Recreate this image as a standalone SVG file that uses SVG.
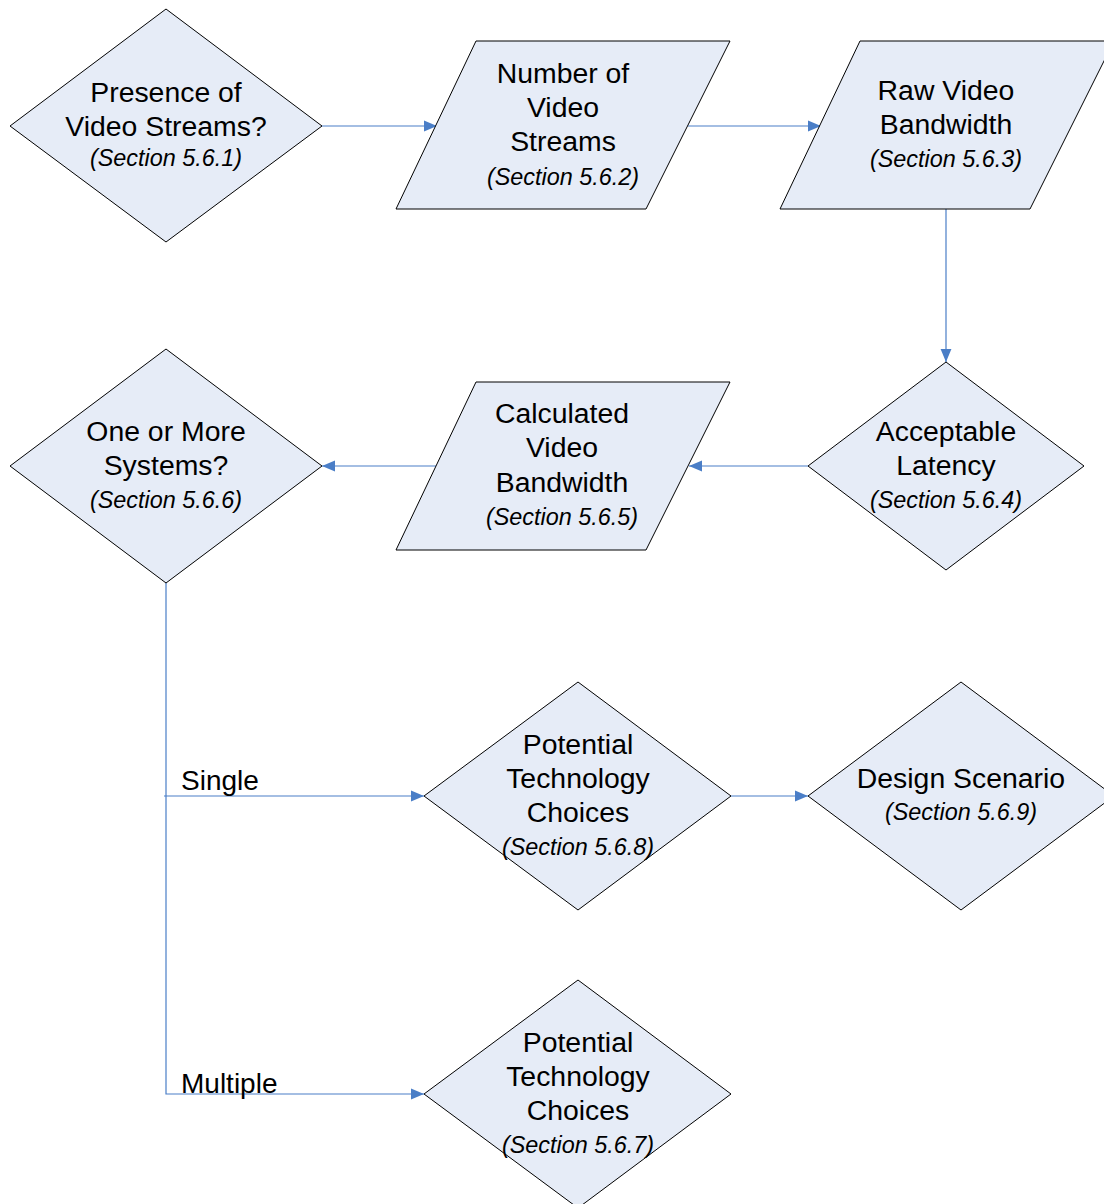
<svg xmlns="http://www.w3.org/2000/svg" width="1104" height="1204" viewBox="0 0 1104 1204">
<defs>
<style>
.shape{fill:#E6ECF7;stroke:#000;stroke-width:1}
.t{font-family:"Liberation Sans",Arial,sans-serif;font-size:28.4px;fill:#000;text-anchor:middle}
.s{font-family:"Liberation Sans",Arial,sans-serif;font-size:23.4px;font-style:italic;fill:#000;text-anchor:middle}
.lbl{font-family:"Liberation Sans",Arial,sans-serif;font-size:28px;fill:#000}
.c{fill:none;stroke:#4A7EC7;stroke-width:1.2}
</style>
<marker id="ah" viewBox="0 0 12 10" refX="12" refY="5" markerWidth="13" markerHeight="12" markerUnits="userSpaceOnUse" orient="auto">
<path d="M0,0 L12,5 L0,10 z" fill="#4A7EC7"/>
</marker>
</defs>
<rect width="1104" height="1204" fill="#fff"/>
<g id="connectors">
<path class="c" d="M322,126 H437" marker-end="url(#ah)"/>
<path class="c" d="M688,126 H821" marker-end="url(#ah)"/>
<path class="c" d="M946,209 V362" marker-end="url(#ah)"/>
<path class="c" d="M808,466 H689" marker-end="url(#ah)"/>
<path class="c" d="M436,466 H322" marker-end="url(#ah)"/>
<path class="c" d="M166,583 V1094 H424" marker-end="url(#ah)"/>
<path class="c" d="M164,796 H424" marker-end="url(#ah)"/>
<path class="c" d="M731,796 H808" marker-end="url(#ah)"/>
<text class="lbl" x="181" y="790">Single</text>
<text class="lbl" x="181" y="1093">Multiple</text>
</g>
<g id="n1">
<polygon class="shape" points="166,9 322,126 166,242 10,126"/>
<text class="t" x="166" y="102">Presence of</text>
<text class="t" x="166" y="136">Video Streams?</text>
<text class="s" x="166" y="166">(Section 5.6.1)</text>
</g>
<g id="n2">
<polygon class="shape" points="476,41 730,41 646,209 396,209"/>
<text class="t" x="563" y="83">Number of</text>
<text class="t" x="563" y="117">Video</text>
<text class="t" x="563" y="151">Streams</text>
<text class="s" x="563" y="185">(Section 5.6.2)</text>
</g>
<g id="n3">
<polygon class="shape" points="860,41 1114,41 1030,209 780,209"/>
<text class="t" x="946" y="100">Raw Video</text>
<text class="t" x="946" y="134">Bandwidth</text>
<text class="s" x="946" y="167">(Section 5.6.3)</text>
</g>
<g id="n4">
<polygon class="shape" points="946,362 1084,466 946,570 808,466"/>
<text class="t" x="946" y="441">Acceptable</text>
<text class="t" x="946" y="475">Latency</text>
<text class="s" x="946" y="508">(Section 5.6.4)</text>
</g>
<g id="n5">
<polygon class="shape" points="476,382 730,382 646,550 396,550"/>
<text class="t" x="562" y="423">Calculated</text>
<text class="t" x="562" y="457">Video</text>
<text class="t" x="562" y="492">Bandwidth</text>
<text class="s" x="562" y="525">(Section 5.6.5)</text>
</g>
<g id="n6">
<polygon class="shape" points="166,349 322,466 166,583 10,466"/>
<text class="t" x="166" y="441">One or More</text>
<text class="t" x="166" y="475">Systems?</text>
<text class="s" x="166" y="508">(Section 5.6.6)</text>
</g>
<g id="n8">
<polygon class="shape" points="578,682 731,796 578,910 424,796"/>
<text class="t" x="578" y="754">Potential</text>
<text class="t" x="578" y="788">Technology</text>
<text class="t" x="578" y="822">Choices</text>
<text class="s" x="578" y="855">(Section 5.6.8)</text>
</g>
<g id="n9">
<polygon class="shape" points="961,682 1114,796 961,910 808,796"/>
<text class="t" x="961" y="788">Design Scenario</text>
<text class="s" x="961" y="820">(Section 5.6.9)</text>
</g>
<g id="n7">
<polygon class="shape" points="578,980 731,1094 578,1208 424,1094"/>
<text class="t" x="578" y="1052">Potential</text>
<text class="t" x="578" y="1086">Technology</text>
<text class="t" x="578" y="1120">Choices</text>
<text class="s" x="578" y="1153">(Section 5.6.7)</text>
</g>
</svg>
